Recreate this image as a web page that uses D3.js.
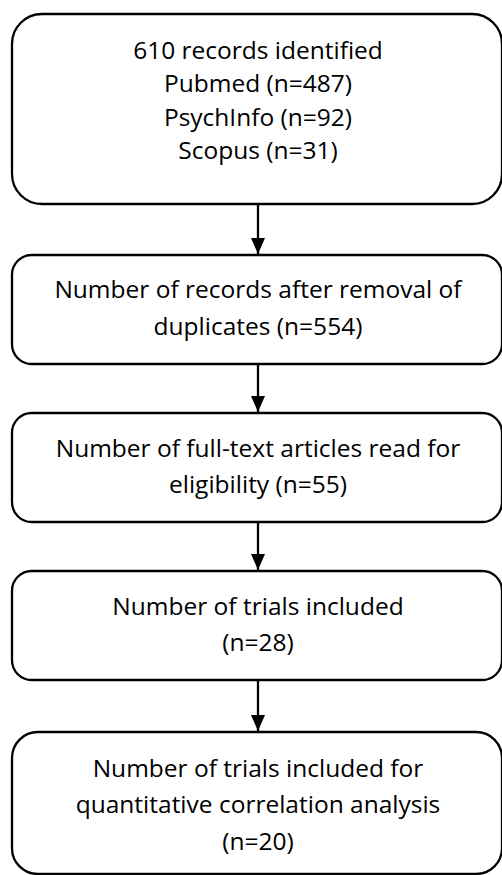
<!DOCTYPE html>
<html>
<head>
<meta charset="utf-8">
<script src="https://cdn.jsdelivr.net/npm/d3@7"></script>
<style>
  html, body { margin: 0; padding: 0; background: #fff; }
  svg { display: block; }
</style>
</head>
<body>
<svg id="chart" width="502" height="875"></svg>
<script>
// ---- data ----
const stages = ["identified", "deduplicated", "fulltext", "included", "quantitative"];
const counts = [610, 554, 55, 28, 20];
const sources = ["Pubmed", "PsychInfo", "Scopus"];
const sourceCounts = [487, 92, 31];
const stageLines = [
  ["610 records identified", "Pubmed (n=487)", "PsychInfo (n=92)", "Scopus (n=31)"],
  ["Number of records after removal of", "duplicates (n=554)"],
  ["Number of full-text articles read for", "eligibility (n=55)"],
  ["Number of trials included", "(n=28)"],
  ["Number of trials included for", "quantitative correlation analysis", "(n=20)"]
];
const boxTops = [14, 255, 413, 571, 732];
const boxBottoms = [204, 364, 522, 680, 874];

// ---- layout ----
const svg = d3.select("#chart");
const left = 12, right = 502;
const cx = (left + right) / 2 + 1;
const fontFamily = "'Open Sans', 'Noto Sans', sans-serif";
const fontSize = 24.5;

const y = d3.scaleLinear().domain([0, 875]).range([0, 875]);

const defs = svg.append("defs");
defs.append("marker")
  .attr("id", "arrow")
  .attr("viewBox", "0 0 16 14")
  .attr("refX", 16).attr("refY", 7)
  .attr("markerWidth", 16).attr("markerHeight", 14)
  .attr("markerUnits", "userSpaceOnUse")
  .attr("orient", "auto")
  .append("path")
  .attr("d", "M0,0 L16,7 L0,14 Z")
  .attr("fill", "#000");

const data = stages.map((s, i) => ({
  key: s, n: counts[i], lines: stageLines[i],
  top: boxTops[i], bottom: boxBottoms[i]
}));

const g = svg.selectAll("g.stage").data(data).join("g").attr("class", "stage");

g.append("rect")
  .attr("x", left)
  .attr("y", d => y(d.top))
  .attr("width", right - left)
  .attr("height", d => y(d.bottom) - y(d.top))
  .attr("rx", d => Math.min(30, (y(d.bottom) - y(d.top)) / 5.5))
  .attr("ry", d => Math.min(30, (y(d.bottom) - y(d.top)) / 5.5))
  .attr("fill", "#fff")
  .attr("stroke", "#000")
  .attr("stroke-width", 2.3);

const lineGap = [33.4, 36.5, 36.5, 36.5, 36.5];
const lineShift = [0, 7, 7.5, 7.5, 10];
g.each(function(d, i) {
  const n = d.lines.length;
  const gap = lineGap[i];
  const mid = (d.top + d.bottom) / 2;
  const firstBaseline = mid - (n - 1) * gap / 2 + lineShift[i];
  d3.select(this).selectAll("text").data(d.lines).join("text")
    .attr("x", cx)
    .attr("y", (t, j) => y(firstBaseline + j * gap))
    .attr("text-anchor", "middle")
    .attr("font-family", fontFamily)
    .attr("font-size", fontSize)
    .attr("fill", "#000")
    .text(t => t);
});

// arrows
const links = d3.pairs(data);
svg.selectAll("line.arrow").data(links).join("line")
  .attr("class", "arrow")
  .attr("x1", cx).attr("x2", cx)
  .attr("y1", d => y(d[0].bottom) + 1)
  .attr("y2", d => y(d[1].top) - 1)
  .attr("stroke", "#000")
  .attr("stroke-width", 2.3)
  .attr("marker-end", "url(#arrow)");
</script>
</body>
</html>
